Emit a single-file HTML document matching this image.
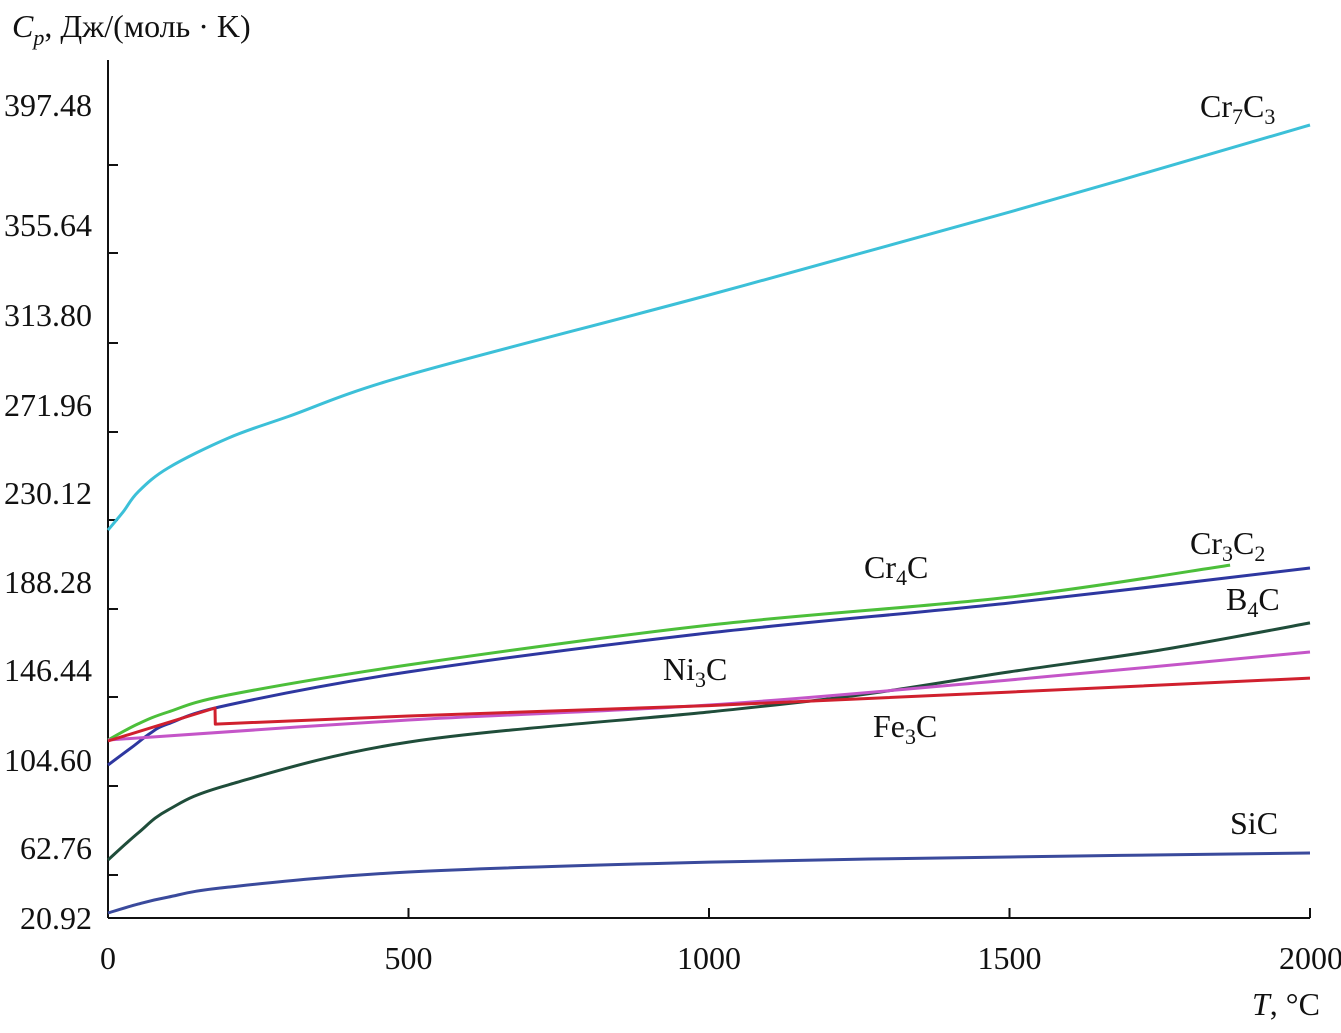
<!DOCTYPE html>
<html><head><meta charset="utf-8"><style>
body{margin:0;background:#fff}
svg text{font-family:"Liberation Serif",serif;font-size:32px;fill:#111}
</style></head><body>
<svg width="1341" height="1028" id="chart"></svg>
<script>
const xTicks=[0,500,1000,1500,2000];
const yTickLabels=["397.48","355.64","313.80","271.96","230.12","188.28","146.44","104.60","62.76","20.92"];
const crT=[0,25,50,100,200,300,500,1000,1500,2000];
const cr7c3=[203.9,212.4,221.9,233.2,247.3,257.5,277.1,314.8,353.9,395.0];
const g1T=[0,50,100,200,500,1000,1500,1867];
const cr3c2=[104.9,112.5,118.1,126.1,140.3,159.1,172.3,187.4];
const b1T=[0,40,70,100,200,500,1000,1500,2000];
const cr4c=[93.1,101.5,108.0,112.5,121.4,137.0,155.4,169.5,186.0];
const bT=[0,50,100,200,500,1000,1250,1500,1750,2000];
const b4c=[48.3,61.0,71.9,83.7,103.9,118.1,126.1,137.0,147.3,160.1];
const nT=[0,500,1000,1500,2000];
const ni3c=[104.9,114.3,121.4,133.2,146.4];
const fT=[0,178,178.5,500,1000,1500,2000];
const fe3c=[104.4,120.0,112.4,116.2,121.1,127.5,134.1];
const sT=[0,50,100,200,500,1000,1500,2000];
const sic=[23.3,27.5,30.8,35.5,42.6,47.3,49.7,51.6];
const X0=108,X1=1310,Y0=918;
const sx=t=>X0+t*(X1-X0)/2000;
const sy=v=>Y0-(v-20.92)/0.4717;
const svg=document.getElementById('chart');
const NS='http://www.w3.org/2000/svg';
function mk(tag,attrs,txt){const e=document.createElementNS(NS,tag);for(const k in attrs)e.setAttribute(k,attrs[k]);if(txt!==undefined)e.textContent=txt;svg.appendChild(e);return e;}
let e=mk('line',{x1:X0,y1:60,x2:X0,y2:Y0,stroke:'#111','stroke-width':2});

e=mk('line',{x1:X0,y1:Y0,x2:X1,y2:Y0,stroke:'#111','stroke-width':2});

const tickYs=[165,253,343,432,520,609,697,786,875];
tickYs.forEach(y=>{const t=mk('line',{x1:X0,y1:y,x2:X0+10,y2:y,stroke:'#111','stroke-width':2});
});
const labYs=[105,225,315,405,493,582,670,760,848,918];
yTickLabels.forEach((l,i)=>{const t=mk('text',{x:92,y:labYs[i]+11,'text-anchor':'end'},l);
});
xTicks.forEach(v=>{const x=sx(v);
const t=mk('line',{x1:x,y1:Y0,x2:x,y2:Y0-10,stroke:'#111','stroke-width':2});

const l=mk('text',{x:v===0?x:(v===2000?x+1:x),y:969,'text-anchor':'middle'},String(v));
});
function smooth(P){let d='M'+P[0][0].toFixed(1)+' '+P[0][1].toFixed(1);
for(let i=0;i<P.length-1;i++){const p0=P[Math.max(i-1,0)],p1=P[i],p2=P[i+1],p3=P[Math.min(i+2,P.length-1)];
const c1x=p1[0]+(p2[0]-p0[0])/6,c1y=p1[1]+(p2[1]-p0[1])/6,c2x=p2[0]-(p3[0]-p1[0])/6,c2y=p2[1]-(p3[1]-p1[1])/6;
d+='C'+c1x.toFixed(1)+' '+c1y.toFixed(1)+' '+c2x.toFixed(1)+' '+c2y.toFixed(1)+' '+p2[0].toFixed(1)+' '+p2[1].toFixed(1);}
return d;}
const series=[[crT,cr7c3,'#3cc0d8','cr7c3-line',1],[g1T,cr3c2,'#4cbf3a','cr3c2-line',1],[b1T,cr4c,'#2e37a0','cr4c-line',1],[bT,b4c,'#1f4d3a','b4c-line',1],[nT,ni3c,'#c455c8','ni3c-line',1],[fT,fe3c,'#d0202e','fe3c-line',0],[sT,sic,'#3a4a9c','sic-line',1]];
series.forEach(([T,V,c,n,sm])=>{
const P=T.map((t,i)=>[sx(t),sy(V[i])]);
let d;
if(sm)d=smooth(P);else{d='';P.forEach((p,i)=>{d+=(i?'L':'M')+p[0].toFixed(1)+' '+p[1].toFixed(1);});}
const p=mk('path',{d:d,fill:'none',stroke:c,'stroke-width':3,'stroke-linejoin':'round'});
});
</script>
<svg style="position:absolute;left:0;top:0" width="1341" height="1028">
<text x="12" y="37" font-size="34"><tspan font-style="italic">C</tspan><tspan font-style="italic" font-size="22" dy="8">p</tspan><tspan dy="-8">, Дж/(моль · K)</tspan></text>
<text x="1252" y="1015" font-size="36"><tspan font-style="italic">T</tspan>, °C</text>
<text x="1200" y="117" font-size="34">Cr<tspan font-size="22" dy="7">7</tspan><tspan dy="-7">C</tspan><tspan font-size="22" dy="7">3</tspan></text>
<text x="1190" y="554" font-size="34">Cr<tspan font-size="22" dy="7">3</tspan><tspan dy="-7">C</tspan><tspan font-size="22" dy="7">2</tspan></text>
<text x="864" y="578" font-size="34">Cr<tspan font-size="22" dy="7">4</tspan><tspan dy="-7">C</tspan></text>
<text x="1226" y="610" font-size="34">B<tspan font-size="22" dy="7">4</tspan><tspan dy="-7">C</tspan></text>
<text x="663" y="680" font-size="34">Ni<tspan font-size="22" dy="7">3</tspan><tspan dy="-7">C</tspan></text>
<text x="873" y="737" font-size="34">Fe<tspan font-size="22" dy="7">3</tspan><tspan dy="-7">C</tspan></text>
<text x="1230" y="834" font-size="34">SiC</text>
</svg>
</body></html>
